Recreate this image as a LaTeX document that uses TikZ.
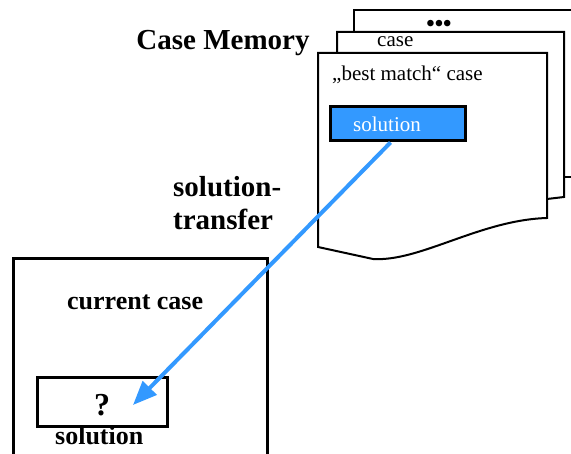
\documentclass[tikz,border=0pt]{standalone}
\usepackage{fontspec}
\setmainfont{Liberation Serif}
\usetikzlibrary{arrows.meta}
\definecolor{solblue}{HTML}{3399FF}
\tikzset{
  page/.style={draw=black, fill=white, line width=2pt, line join=miter},
  frame/.style={draw=black, line width=3pt, inner sep=0pt},
  bigbold/.style={font=\fontsize{29}{33}\selectfont\bfseries, inner sep=0pt},
  midbold/.style={font=\fontsize{26}{30}\selectfont\bfseries, inner sep=0pt},
  plain/.style={font=\fontsize{21}{25}\selectfont, inner sep=0pt},
  transfer/.style={draw=solblue, line width=4pt,
    -{Triangle[length=24pt,width=19pt]}, shorten <=0pt}
}
\begin{document}
\begin{tikzpicture}[x=1pt, y=-1pt]
  \clip (0,0) rectangle (571,454);
  \fill[white] (0,0) rectangle (571,454);

  % stack of stored cases, back to front
  \path[page] (354,10) -- (590,10) -- (590,177) -- (354,177) -- cycle;
  \path[page] (337,32) -- (564,32) -- (564,197) -- (547,199)
              .. controls (480,205) and (420,225) .. (337,232) -- cycle;
  \path[page] (318,53) -- (547,53) -- (547,218)
              .. controls (480,220) and (420,262) .. (373,259)
              -- (318,247) -- cycle;

  \node[font=\fontsize{24}{30}\selectfont\bfseries, inner sep=0pt, anchor=base] (dots) at (439,32) {•••};
  \node[plain, anchor=base west] (midcase) at (377,47) {case};
  \node[plain, anchor=base west] (bestmatch) at (332,81) {„best match“ case};
  \node[frame, fill=solblue, minimum width=135pt, minimum height=34pt] (bestsol) at (397.5,124) {};
  \node[plain, text=white, anchor=base west] (bestsollabel) at (353,132) {solution};

  % headings
  \node[bigbold, anchor=base] (memory) at (223,50) {Case Memory};
  \node[bigbold, anchor=base west] (transfer1) at (173,197) {solution-};
  \node[bigbold, anchor=base west] (transfer2) at (173,230) {transfer};

  % current case
  \node[frame, minimum width=254pt, minimum height=211pt] (current) at (140,364.5) {};
  \node[midbold, anchor=base west] (currentlabel) at (67,310) {current case};
  \node[frame, minimum width=130pt, minimum height=49pt] (cursol) at (102,402.5) {};
  \node[font=\fontsize{32}{36}\selectfont\bfseries, inner sep=0pt, anchor=base] (question) at (102,416) {?};
  \node[midbold, anchor=base west] (cursollabel) at (55,445) {solution};

  % transfer of the solution
  \coordinate (tip) at (133,405);
  \draw[transfer] ([xshift=-7pt]bestsol.south) -- (tip);
\end{tikzpicture}
\end{document}
